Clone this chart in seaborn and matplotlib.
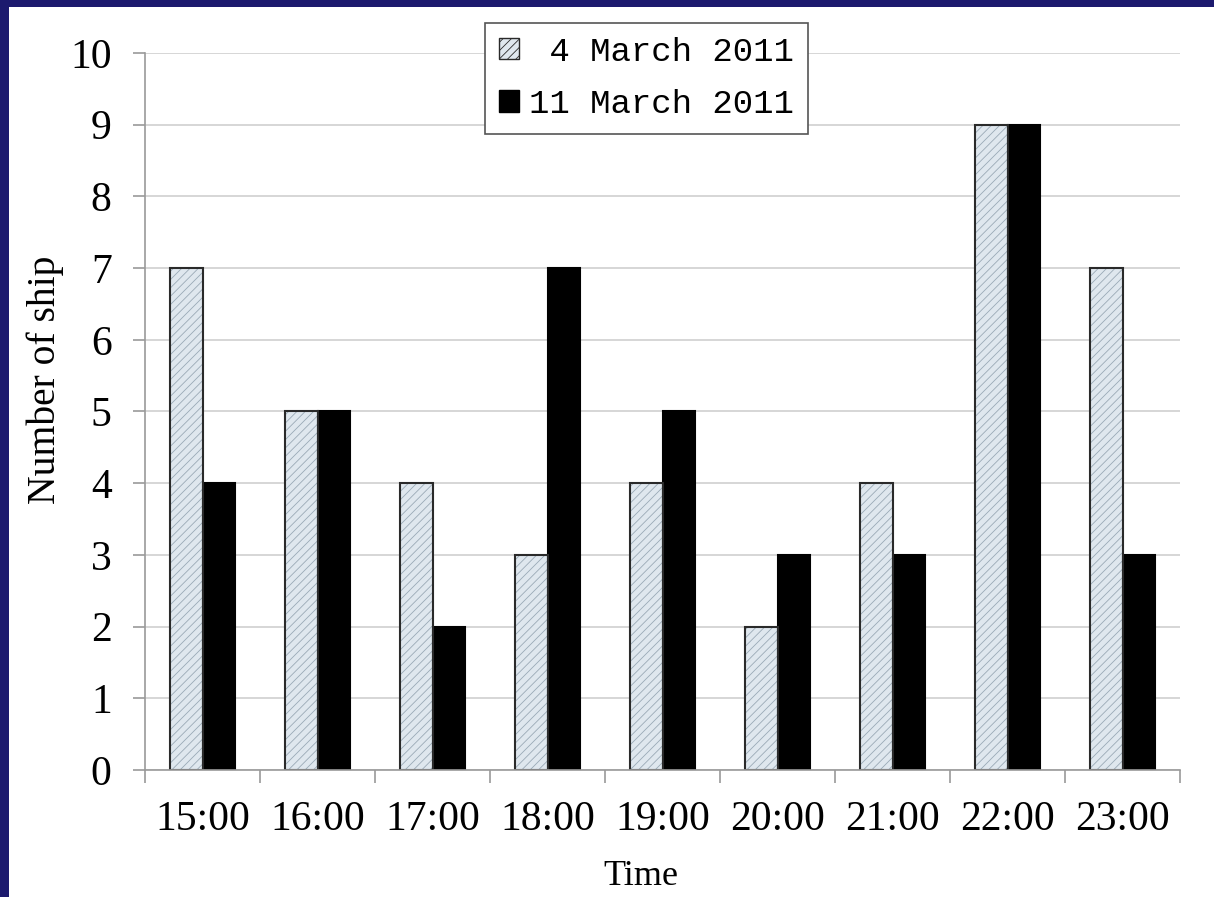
import pandas as pd
import matplotlib
matplotlib.use("Agg")
import matplotlib.pyplot as plt
from matplotlib.patches import Patch, Rectangle
from matplotlib.ticker import FixedLocator
import seaborn as sns

times = ["15:00", "16:00", "17:00", "18:00", "19:00", "20:00", "21:00", "22:00", "23:00"]
ships_4mar = [7, 5, 4, 3, 4, 2, 4, 9, 7]
ships_11mar = [4, 5, 2, 7, 5, 3, 3, 9, 3]
dates = [" 4 March 2011", "11 March 2011"]

light = "#dfe7ee"
dark = "#000000"
navy = "#1c1a6e"

df = pd.DataFrame({
    "time": times * 2,
    "ships": ships_4mar + ships_11mar,
    "date": [dates[0]] * len(times) + [dates[1]] * len(times),
})

sns.set_style("white")
plt.rcParams["font.family"] = ["Liberation Serif", "DejaVu Serif"]
plt.rcParams["hatch.linewidth"] = 0.6
plt.rcParams["text.color"] = "black"
plt.rcParams["axes.labelcolor"] = "black"
plt.rcParams["xtick.labelcolor"] = "black"
plt.rcParams["ytick.labelcolor"] = "black"

fig = plt.figure(figsize=(12.14, 8.97), dpi=100, facecolor=navy)
# white page inside the blue slide frame
fig.patches.append(Rectangle((9 / 1214, 0), 1, 1 - 7 / 897, transform=fig.transFigure,
                             facecolor="white", edgecolor="none", zorder=-10))
ax = fig.add_axes([145 / 1214, 1 - 770 / 897, 1035 / 1214, 717 / 897])
ax.set_facecolor("white")

sns.barplot(data=df, x="time", y="ships", hue="date", palette=[light, dark],
            width=0.565, edgecolor="#222222", linewidth=1.5, saturation=1,
            legend=False, ax=ax)

# hatch the light bars with grey lines, then redraw a dark outline
for p in ax.containers[0]:
    p.set_hatch("////")
    p.set_edgecolor("#9aa9b6")
    p.set_linewidth(0)
    ax.add_patch(Rectangle(p.get_xy(), p.get_width(), p.get_height(), fill=False,
                           edgecolor="#2a2a2a", linewidth=1.5, zorder=p.get_zorder() + 0.1))
for p in ax.containers[1]:
    p.set_edgecolor("#000000")

ax.set_ylim(0, 10)
ax.set_xlim(-0.5, len(times) - 0.5)
ax.set_yticks(range(0, 11))
ax.yaxis.grid(True, color="#d0d0d0", linewidth=1.2)
ax.set_axisbelow(True)

for s in ["top", "right"]:
    ax.spines[s].set_visible(False)
for s in ["left", "bottom"]:
    ax.spines[s].set_color("#9a9a9a")
    ax.spines[s].set_linewidth(1.2)

ax.tick_params(axis="y", which="major", length=9, width=1.2, color="#9a9a9a",
               labelsize=30, pad=15, left=True)
ax.tick_params(axis="x", which="major", length=0, labelsize=30, pad=22)
ax.xaxis.set_minor_locator(FixedLocator([i - 0.5 for i in range(len(times) + 1)]))
ax.tick_params(axis="x", which="minor", length=9, width=1.2, color="#9a9a9a", bottom=True)

ax.set_xlabel("Time", fontsize=26, labelpad=15)
ax.set_ylabel("Number of ship", fontsize=28.5, labelpad=4)
ax.xaxis.label.set_x(0.479)
ax.yaxis.label.set_y(0.544)

handles = [
    Patch(facecolor=light, edgecolor="#2a2a2a", hatch="////", linewidth=1.0),
    Patch(facecolor=dark, edgecolor="#000000", linewidth=1.0),
]
leg = ax.legend(handles, dates, loc="upper left", bbox_to_anchor=(485 / 1214, 1 - 23 / 897),
                bbox_transform=fig.transFigure, borderaxespad=0, frameon=True, fancybox=False,
                framealpha=1, edgecolor="#555555", handlelength=0.6, handleheight=0.6,
                handletextpad=0.3, labelspacing=0.63, borderpad=0.4,
                prop={"family": "Liberation Mono", "size": 24.5})
leg.get_frame().set_linewidth(1.2)

fig.savefig("out.png", dpi=100)
